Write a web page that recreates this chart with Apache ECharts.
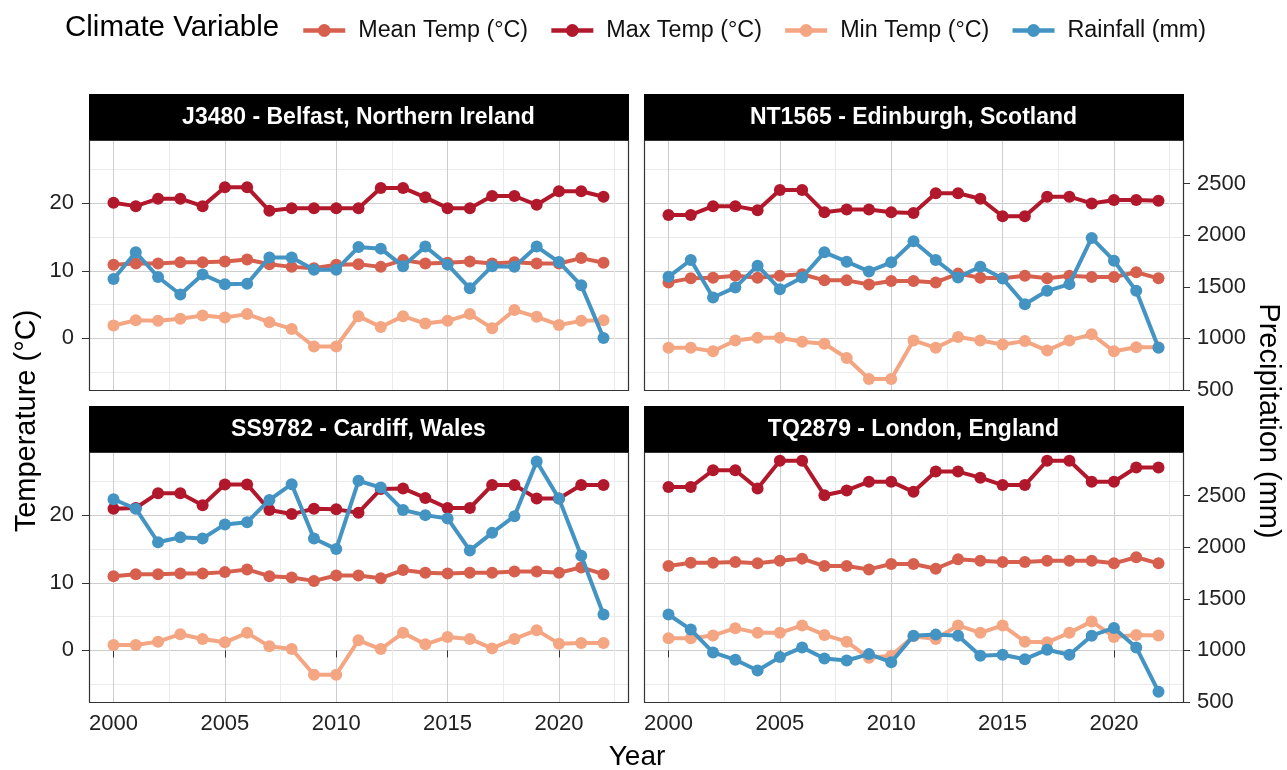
<!DOCTYPE html>
<html>
<head>
<meta charset="utf-8">
<title>Climate variables by station</title>
<script src="https://cdn.jsdelivr.net/npm/echarts@6/dist/echarts.min.js"></script>
<style>
  html, body { margin: 0; padding: 0; background: #fff; }
  #chart { width: 1287px; height: 770px; }
</style>
</head>
<body>
<div id="chart"></div>
<script type="text/javascript">
	// data
	var years = [2000, 2001, 2002, 2003, 2004, 2005, 2006, 2007, 2008, 2009, 2010, 2011,
		2012, 2013, 2014, 2015, 2016, 2017, 2018, 2019, 2020, 2021, 2022];

	var belfastMean = [10.9, 11.1, 11.1, 11.3, 11.3, 11.4, 11.7, 11.0, 10.6, 10.4, 10.9, 11.0, 10.6, 11.6, 11.1, 11.2, 11.4, 11.1, 11.3, 11.1, 11.1, 11.9, 11.2];
	var belfastMax = [20.1, 19.6, 20.7, 20.7, 19.6, 22.4, 22.4, 18.9, 19.3, 19.3, 19.3, 19.3, 22.3, 22.3, 20.9, 19.3, 19.3, 21.1, 21.1, 19.8, 21.8, 21.8, 21.0];
	var belfastMin = [1.9, 2.7, 2.6, 2.9, 3.4, 3.1, 3.6, 2.4, 1.4, -1.2, -1.2, 3.3, 1.7, 3.3, 2.2, 2.6, 3.6, 1.5, 4.2, 3.2, 2.0, 2.6, 2.7];
	var belfastRain = [1575, 1835, 1595, 1425, 1620, 1525, 1530, 1785, 1785, 1665, 1665, 1885, 1870, 1700, 1890, 1715, 1485, 1700, 1695, 1890, 1740, 1515, 1005];

	var edinburghMean = [8.3, 8.9, 9.0, 9.3, 9.0, 9.3, 9.5, 8.6, 8.6, 8.0, 8.5, 8.5, 8.3, 9.6, 9.0, 8.9, 9.3, 8.9, 9.3, 9.1, 9.1, 9.8, 8.9];
	var edinburghMax = [18.3, 18.3, 19.6, 19.6, 19.0, 22.0, 22.0, 18.7, 19.1, 19.1, 18.7, 18.6, 21.5, 21.5, 20.7, 18.1, 18.1, 21.0, 21.0, 20.0, 20.5, 20.5, 20.4];
	var edinburghMin = [-1.4, -1.4, -1.9, -0.3, 0.1, 0.1, -0.5, -0.8, -2.9, -6.0, -6.0, -0.3, -1.4, 0.2, -0.3, -0.9, -0.4, -1.8, -0.3, 0.6, -1.9, -1.3, -1.3];
	var edinburghRain = [1597, 1760, 1396, 1494, 1705, 1477, 1591, 1834, 1744, 1649, 1737, 1942, 1760, 1591, 1695, 1581, 1331, 1461, 1526, 1974, 1753, 1461, 909];

	var cardiffMean = [11.0, 11.3, 11.3, 11.4, 11.4, 11.6, 12.0, 11.0, 10.8, 10.3, 11.1, 11.1, 10.7, 11.9, 11.5, 11.4, 11.5, 11.5, 11.7, 11.7, 11.5, 12.3, 11.3];
	var cardiffMax = [21.0, 21.1, 23.3, 23.3, 21.5, 24.6, 24.6, 20.8, 20.2, 21.0, 20.9, 20.4, 23.9, 24.0, 22.6, 21.1, 21.1, 24.5, 24.5, 22.5, 22.5, 24.5, 24.5];
	var cardiffMin = [0.8, 0.8, 1.3, 2.4, 1.7, 1.2, 2.6, 0.6, 0.2, -3.6, -3.6, 1.5, 0.2, 2.6, 0.9, 2.0, 1.7, 0.3, 1.7, 3.0, 1.0, 1.1, 1.1];
	var cardiffRain = [2465, 2373, 2048, 2097, 2084, 2221, 2243, 2458, 2611, 2084, 1982, 2644, 2578, 2360, 2311, 2279, 1969, 2139, 2301, 2830, 2471, 1918, 1348];

	var londonMean = [12.5, 13.0, 13.0, 13.1, 12.9, 13.3, 13.6, 12.5, 12.5, 12.0, 12.8, 12.8, 12.1, 13.5, 13.3, 13.1, 13.1, 13.3, 13.3, 13.3, 12.9, 13.8, 12.9];
	var londonMax = [24.2, 24.2, 26.7, 26.7, 24.0, 28.1, 28.1, 23.0, 23.7, 25.0, 25.0, 23.5, 26.5, 26.5, 25.6, 24.5, 24.5, 28.1, 28.1, 25.0, 25.0, 27.1, 27.1];
	var londonMin = [1.8, 1.8, 2.2, 3.3, 2.6, 2.6, 3.7, 2.3, 1.3, -1.1, -0.8, 2.1, 1.7, 3.7, 2.6, 3.7, 1.3, 1.2, 2.6, 4.3, 2.0, 2.3, 2.2];
	var londonRain = [1348, 1202, 980, 909, 805, 935, 1029, 922, 902, 964, 886, 1143, 1153, 1143, 948, 958, 915, 1007, 958, 1143, 1218, 1029, 600];

	var seriesNames = ['Mean Temp (°C)', 'Max Temp (°C)', 'Min Temp (°C)', 'Rainfall (mm)'];
	var seriesColors = ['#d6604d', '#b2182b', '#f4a582', '#4393c3'];

	var panels = [
		{title: 'J3480 - Belfast, Northern Ireland', data: [belfastMean, belfastMax, belfastMin, belfastRain]},
		{title: 'NT1565 - Edinburgh, Scotland', data: [edinburghMean, edinburghMax, edinburghMin, edinburghRain]},
		{title: 'SS9782 - Cardiff, Wales', data: [cardiffMean, cardiffMax, cardiffMin, cardiffRain]},
		{title: 'TQ2879 - London, England', data: [londonMean, londonMax, londonMin, londonRain]}
	];

	// secondary axis: rainfall = 1000 + SCALE * temperature
	var SCALE = 65.4;
	var RAIN_MIN = 500;
	var TEMP_MIN = (RAIN_MIN - 1000) / SCALE;
	var TEMP_MAX = 29.4;
	var RAIN_MAX = 1000 + SCALE * TEMP_MAX;

	var panelW = 539, panelH = 250, stripH = 46;
	var lefts = [89, 644], tops = [140, 452];
	var font = 'Liberation Sans, Arial, sans-serif';
	var plain = function (v) { return String(v); };

	var grids = [], xAxes = [], yAxes = [], series = [], graphics = [];

	panels.forEach(function (p, i) {
		var col = i % 2, row = Math.floor(i / 2);
		grids.push({
			left: lefts[col], top: tops[row], width: panelW, height: panelH,
			show: true, borderWidth: 0, backgroundColor: '#fff'
		});
		xAxes.push({
			type: 'value', gridIndex: i, min: 1998.9, max: 2023.1, splitNumber: 5,
			axisLine: {show: false},
			axisTick: {show: row === 1, length: 7, lineStyle: {color: '#333'}},
			axisLabel: {
				show: row === 1, fontSize: 22, color: '#222', fontFamily: font, margin: 11,
				showMinLabel: false, showMaxLabel: false, formatter: plain
			},
			splitLine: {show: true, lineStyle: {color: '#cdcdcd', width: 1}},
			minorTick: {show: false, splitNumber: 2},
			minorSplitLine: {show: true, lineStyle: {color: '#ebebeb', width: 1}}
		});
		// temperature axis
		yAxes.push({
			type: 'value', gridIndex: i, position: 'left', min: TEMP_MIN, max: TEMP_MAX, splitNumber: 4,
			axisLine: {show: false},
			axisTick: {show: col === 0, length: 7, lineStyle: {color: '#333'}},
			axisLabel: {
				show: col === 0, fontSize: 22, color: '#222', fontFamily: font, margin: 15,
				showMinLabel: false, showMaxLabel: false, formatter: plain
			},
			splitLine: {show: true, lineStyle: {color: '#cdcdcd', width: 1}},
			minorTick: {show: false, splitNumber: 2},
			minorSplitLine: {show: true, lineStyle: {color: '#ebebeb', width: 1}}
		});
		// precipitation axis
		yAxes.push({
			type: 'value', gridIndex: i, position: 'right', min: RAIN_MIN, max: RAIN_MAX, splitNumber: 5,
			axisLine: {show: false},
			axisTick: {show: col === 1, length: 7, lineStyle: {color: '#333'}},
			axisLabel: {
				show: col === 1, fontSize: 22, color: '#222', fontFamily: font, margin: 14,
				showMaxLabel: false, formatter: plain
			},
			splitLine: {show: false}
		});

		p.data.forEach(function (vals, k) {
			series.push({
				name: seriesNames[k],
				type: 'line',
				xAxisIndex: i,
				yAxisIndex: k === 3 ? i * 2 + 1 : i * 2,
				data: years.map(function (y, j) { return [y, vals[j]]; }),
				symbol: 'circle',
				symbolSize: 12,
				lineStyle: {width: 4, color: seriesColors[k]},
				itemStyle: {color: seriesColors[k]},
				emphasis: {disabled: true},
				z: 2 + k
			});
		});

		// panel border on top of the grid lines
		graphics.push({
			type: 'rect', z: 100,
			shape: {x: lefts[col] + 0.5, y: tops[row] + 0.5, width: panelW, height: panelH},
			style: {fill: null, stroke: '#333', lineWidth: 1.2}
		});
		// facet strip
		graphics.push({
			type: 'rect', z: 100,
			shape: {x: lefts[col], y: tops[row] - stripH, width: panelW + 1, height: stripH},
			style: {fill: '#000'}
		});
		graphics.push({
			type: 'text', z: 101,
			x: lefts[col] + panelW / 2, y: tops[row] - stripH / 2 + 1,
			style: {
				text: p.title, fill: '#fff', font: 'bold 23px ' + font,
				align: 'center', verticalAlign: 'middle'
			}
		});
	});

	graphics.push({
		type: 'text', x: 65, y: 28,
		style: {text: 'Climate Variable', fill: '#000', font: '29.5px ' + font, verticalAlign: 'middle'}
	});
	graphics.push({
		type: 'text', x: 637, y: 757,
		style: {text: 'Year', fill: '#000', font: '28px ' + font, align: 'center', verticalAlign: 'middle'}
	});
	graphics.push({
		type: 'text', x: 27, y: 421, rotation: Math.PI / 2,
		style: {text: 'Temperature (°C)', fill: '#000', font: '29px ' + font, align: 'center', verticalAlign: 'middle'}
	});
	graphics.push({
		type: 'text', x: 1268, y: 421, rotation: -Math.PI / 2,
		style: {text: 'Precipitation (mm)', fill: '#000', font: '29px ' + font, align: 'center', verticalAlign: 'middle'}
	});

	var chart = echarts.init(document.getElementById('chart'));
	var option = {
		animation: false,
		backgroundColor: '#fff',
		legend: {
			data: seriesNames,
			left: 296, top: 14,
			itemWidth: 42, itemHeight: 16, itemGap: 21,
			lineStyle: {width: 4.5},
			textStyle: {fontSize: 23.3, color: '#111', fontFamily: font, padding: [0, 0, 0, 8]}
		},
		grid: grids,
		xAxis: xAxes,
		yAxis: yAxes,
		series: series,
		graphic: graphics
	};
	chart.setOption(option);
	window.onresize = function () {
		chart.resize();
	};
</script>
</body>
</html>
